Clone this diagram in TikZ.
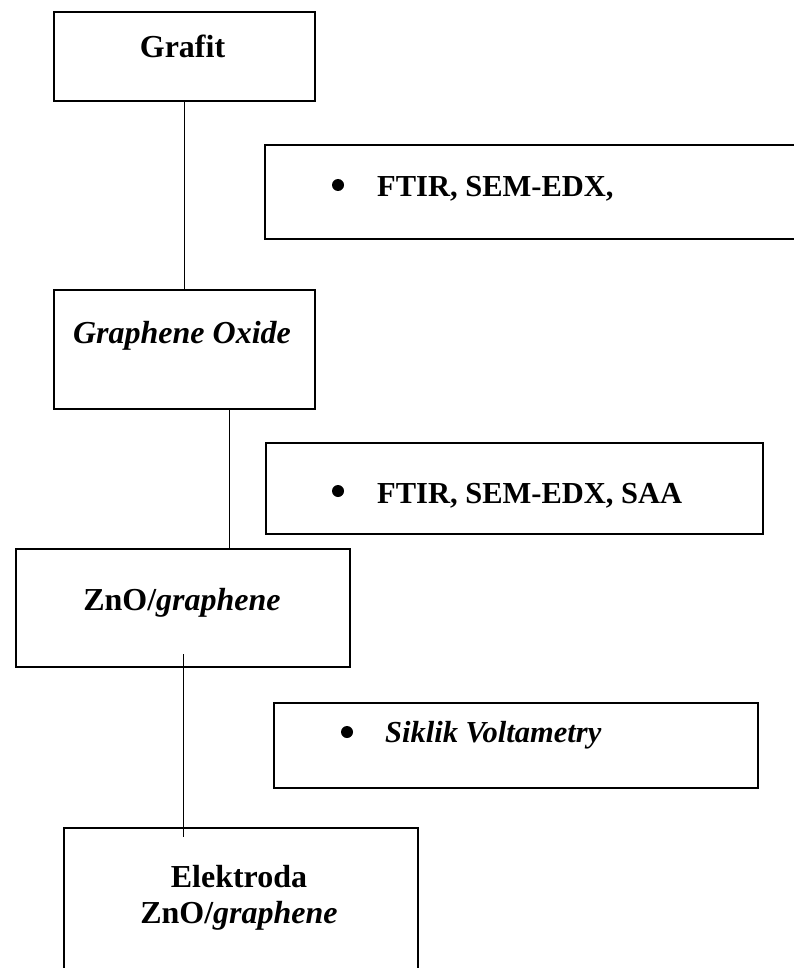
\documentclass[tikz,border=0pt]{standalone}
\usepackage{fontspec}
\setmainfont{Liberation Serif}
\usetikzlibrary{calc}
\begin{document}
\begin{tikzpicture}[x=1pt,y=-1pt,
  box/.style={draw, line width=2.2pt, rectangle, inner sep=0pt, anchor=north west},
  lbl/.style={anchor=base, inner sep=0pt, font=\fontsize{32}{36}\selectfont\bfseries},
  blt/.style={anchor=base west, inner sep=0pt, font=\fontsize{30.5}{36}\selectfont\bfseries},
  dot/.style={circle, fill=black, inner sep=0pt, minimum size=12pt},
  conn/.style={line width=1.1pt}]
\useasboundingbox (0,0) rectangle (794,968);
\clip (0,0) rectangle (794,968);
% boxes
\node[box, minimum width=261pt, minimum height=89pt]  (grafit) at (53,11) {};
\node[box, minimum width=540pt, minimum height=94pt]  (m1)     at (264,144) {};
\node[box, minimum width=261pt, minimum height=119pt] (go)     at (53,289) {};
\node[box, minimum width=497pt, minimum height=91pt]  (m2)     at (265,442) {};
\node[box, minimum width=334pt, minimum height=118pt] (zno)    at (15,548) {};
\node[box, minimum width=484pt, minimum height=85pt]  (m3)     at (273,702) {};
\node[box, minimum width=354pt, minimum height=180pt] (elek)   at (63,827) {};
% texts
\node[lbl] (tgrafit) at (182.5,58) {Grafit};
\node[dot] (d1) at (338,185) {};
\node[blt] (t1) at (377,197) {FTIR, SEM-EDX,};
\node[lbl] (tgo) at (182,343) {\itshape Graphene Oxide};
\node[dot] (d2) at (338,491) {};
\node[blt] (t2) at (377,503) {FTIR, SEM-EDX, SAA};
\node[lbl] (tzno) at (182,610) {ZnO/\textit{graphene}};
\node[dot] (d3) at (347,732) {};
\node[blt] (t3) at (385,742) {\itshape Siklik Voltametry};
\node[lbl] (te1) at (239,887) {Elektroda};
\node[lbl] (te2) at (239,923) {ZnO/\textit{graphene}};
% connectors
\draw[conn] (grafit.south) -- (go.north);
\draw[conn] ($(go.south)+(44.5,0)$) -- ($(go.south |- zno.north)+(44.5,0)$);
\draw[conn] ($(zno.south)+(0,-14)$) -- ($(zno.south |- elek.north)+(0,10)$);
\end{tikzpicture}
\end{document}
